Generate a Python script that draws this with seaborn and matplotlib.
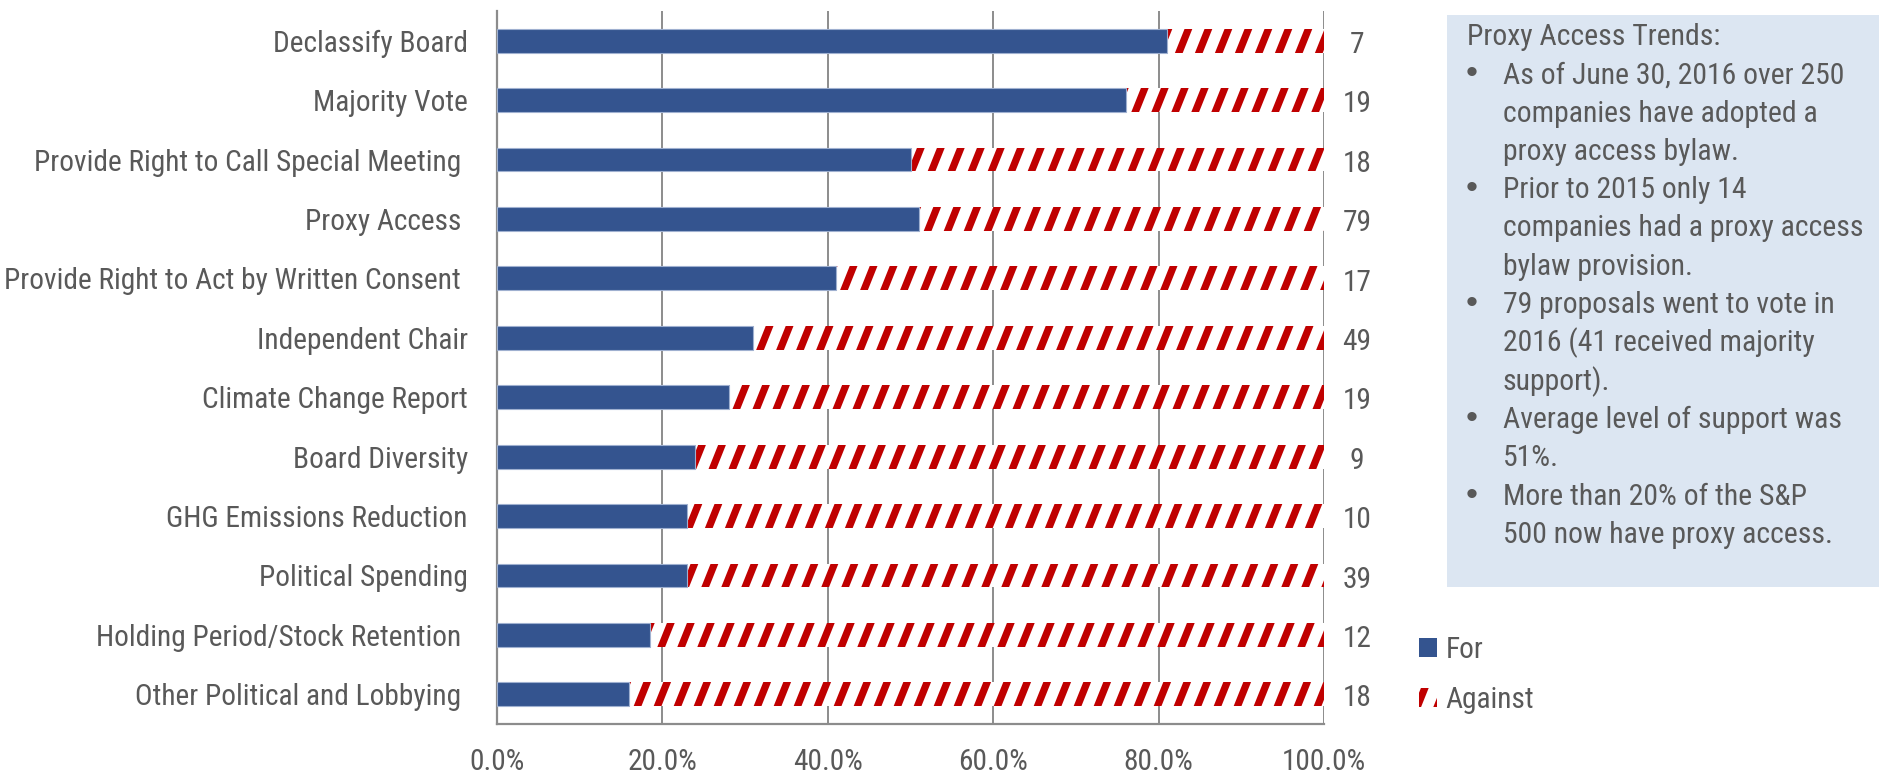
import numpy as np
import pandas as pd
import matplotlib
matplotlib.use("Agg")
import matplotlib.pyplot as plt
import matplotlib.hatch as mhatch
from matplotlib import font_manager as fm
from matplotlib.patches import Patch, Rectangle
import seaborn as sns

# ---------------- data ----------------
categories = [
    "Declassify Board",
    "Majority Vote",
    "Provide Right to Call Special Meeting ",
    "Proxy Access ",
    "Provide Right to Act by Written Consent ",
    "Independent Chair",
    "Climate Change Report",
    "Board Diversity",
    "GHG Emissions Reduction",
    "Political Spending",
    "Holding Period/Stock Retention ",
    "Other Political and Lobbying ",
]
for_pct = [81, 76, 50, 51, 41, 31, 28, 24, 23, 23, 18.5, 16]
against_pct = [100 - v for v in for_pct]
proposal_counts = [7, 19, 18, 79, 17, 49, 19, 9, 10, 39, 12, 18]
x_ticks = [0, 20, 40, 60, 80, 100]
legend_labels = ["For", "Against"]
box_title = "Proxy Access Trends:"
box_bullets = [
    ["As of June 30, 2016 over 250", "companies have adopted a", "proxy access bylaw."],
    ["Prior to 2015 only 14", "companies had a proxy access", "bylaw provision."],
    ["79 proposals went to vote in", "2016 (41 received majority", "support)."],
    ["Average level of support was", "51%."],
    ["More than 20% of the S&P", "500 now have proxy access."],
]

# ---------------- custom steep diagonal hatch ----------------
class SteepHatch(mhatch.HatchPatternBase):
    def __init__(self, hatch, density):
        k = hatch.count('/')
        self.n = 5 * k
        self.j = 2 * k
        self.num_lines = (self.n + self.j + 2) if k else 0
        self.num_vertices = self.num_lines * 2

    def set_vertices_and_codes(self, vertices, codes):
        idx = np.arange(-self.j - 1, self.n + 1)
        x0 = idx / self.n
        vertices[0::2, 0] = x0
        vertices[0::2, 1] = 0.0
        vertices[1::2, 0] = x0 + self.j / self.n
        vertices[1::2, 1] = 1.0
        codes[0::2] = mhatch.Path.MOVETO
        codes[1::2] = mhatch.Path.LINETO

mhatch._hatch_types = [SteepHatch if t is mhatch.NorthEastHatch else t
                       for t in mhatch._hatch_types]

# ---------------- fonts ----------------
sns.set_style("white")
ttf = fm.fontManager.ttflist
names = {f.name for f in ttf}
narrow_pref = ["Liberation Sans Narrow", "Arial Narrow", "Roboto Condensed",
               "Noto Sans Condensed", "Open Sans Condensed",
               "DejaVu Sans Condensed", "Noto Sans Display Condensed"]
family = None
stretch = "normal"
for p in narrow_pref:
    if p in names:
        family = p
        break
if family is None:
    cond = [f for f in ttf if f.stretch in ("condensed", "semi-condensed")
            and f.style == "normal" and f.weight in (400, "normal", "regular")]
    for base in ["Liberation Sans", "Roboto", "Noto Sans", "Open Sans", "Lato",
                 "Inter", "DejaVu Sans"]:
        hit = [f for f in cond if f.name == base]
        if hit:
            family, stretch = base, "condensed"
            break
if family is None:
    family = "Liberation Sans"
FAM = [family, "Liberation Sans", "DejaVu Sans"]
plt.rcParams["font.family"] = FAM
plt.rcParams["font.stretch"] = stretch
plt.rcParams["hatch.linewidth"] = 5.2

TXT = "#595959"
GRID = "#8c8c8c"
BLUE = "#34548f"
RED = "#c00000"

W, H, DPI = 1879, 777, 100
fig = plt.figure(figsize=(W / DPI, H / DPI), dpi=DPI)
renderer = fig.canvas.get_renderer()


def fit_size(s, target_px, max_pt):
    t = fig.text(0, 0, s, fontsize=20)
    w = t.get_window_extent(renderer).width
    t.remove()
    return min(max_pt, 20 * target_px / w)


FS = fit_size("Declassify Board", 195, 22.5)
FS_BOX = fit_size("As of June 30, 2016 over 250", 342, 22.5)

ax = fig.add_axes([497 / W, 1 - 724 / H, (1324 - 497) / W, (724 - 11) / H])

df = pd.DataFrame({"issue": categories, "for": for_pct, "against": against_pct,
                   "count": proposal_counts})
df["total"] = df["for"] + df["against"]

# Against (full-length hatched bar), then For on top
sns.barplot(data=df, y="issue", x="total", color="white", width=0.4,
            ax=ax, linewidth=0, edgecolor=RED, zorder=2)
for p in ax.patches:
    p.set_hatch("/")
    p.set_edgecolor(RED)
    p.set_facecolor("white")
    p.set_linewidth(0)
sns.barplot(data=df, y="issue", x="for", color=BLUE, width=0.4, ax=ax,
            linewidth=0.8, edgecolor="#9fb0d0", zorder=3, saturation=1)

ax.set_xlim(0, 100)
ax.set_ylim(len(categories) - 0.5, -0.5)
ax.set_xticks(x_ticks)
ax.set_xticklabels([f"{v:.1f}%" for v in x_ticks])
ax.set_xlabel("")
ax.set_ylabel("")
ax.grid(axis="x", color=GRID, linewidth=1.4, zorder=0)
ax.grid(axis="y", visible=False)
ax.set_axisbelow(True)

for s in ["top", "right"]:
    ax.spines[s].set_visible(False)
for s in ["left", "bottom"]:
    ax.spines[s].set_color(GRID)
    ax.spines[s].set_linewidth(1.6)

ax.tick_params(axis="x", which="major", length=7, width=1.4, color=GRID,
               labelsize=FS, labelcolor=TXT, pad=10, direction="out")
ax.tick_params(axis="y", which="major", length=0, labelsize=FS,
               labelcolor=TXT, pad=21)
ax.set_yticks(np.arange(-0.5, len(categories), 1.0), minor=True)
ax.tick_params(axis="y", which="minor", length=8, width=1.4, color=GRID,
               direction="out")

# proposal counts to the right of the bars
for i, c in enumerate(df["count"]):
    ax.text(1.040, i + 0.07, str(c), transform=ax.get_yaxis_transform(),
            ha="center", va="center", fontsize=FS, color=TXT)

# legend
handles = [Patch(facecolor=BLUE, edgecolor=BLUE, linewidth=0),
           Patch(facecolor="white", edgecolor=RED, hatch="/", linewidth=0)]
fig.legend(handles, legend_labels, loc="upper left",
           bbox_to_anchor=(1419 / W, 1 - 636 / H), frameon=False,
           fontsize=FS, handlelength=0.6, handleheight=0.6,
           handletextpad=0.3, labelspacing=0.75, labelcolor=TXT,
           borderpad=0, borderaxespad=0)

# info box
fig.patches.append(Rectangle((1447 / W, 1 - 587 / H), (W - 1447) / W,
                             (587 - 15) / H, transform=fig.transFigure,
                             facecolor="#dce6f2", edgecolor="none", zorder=0))
line_h = 38.3
y0 = 45
fig.text(1467 / W, 1 - y0 / H, box_title, ha="left", va="baseline",
         fontsize=FS_BOX, color=TXT)
row = 1
for item in box_bullets:
    for k, line in enumerate(item):
        yb = 1 - (y0 + row * line_h) / H
        if k == 0:
            fig.text(1472 / W, yb, "•", ha="center", va="baseline",
                     fontsize=FS_BOX * 1.15, color=TXT,
                     family=["Liberation Sans", "DejaVu Sans"], stretch="normal")
        fig.text(1503 / W, yb, line, ha="left", va="baseline",
                 fontsize=FS_BOX, color=TXT)
        row += 1

fig.savefig("out.png", dpi=DPI)
